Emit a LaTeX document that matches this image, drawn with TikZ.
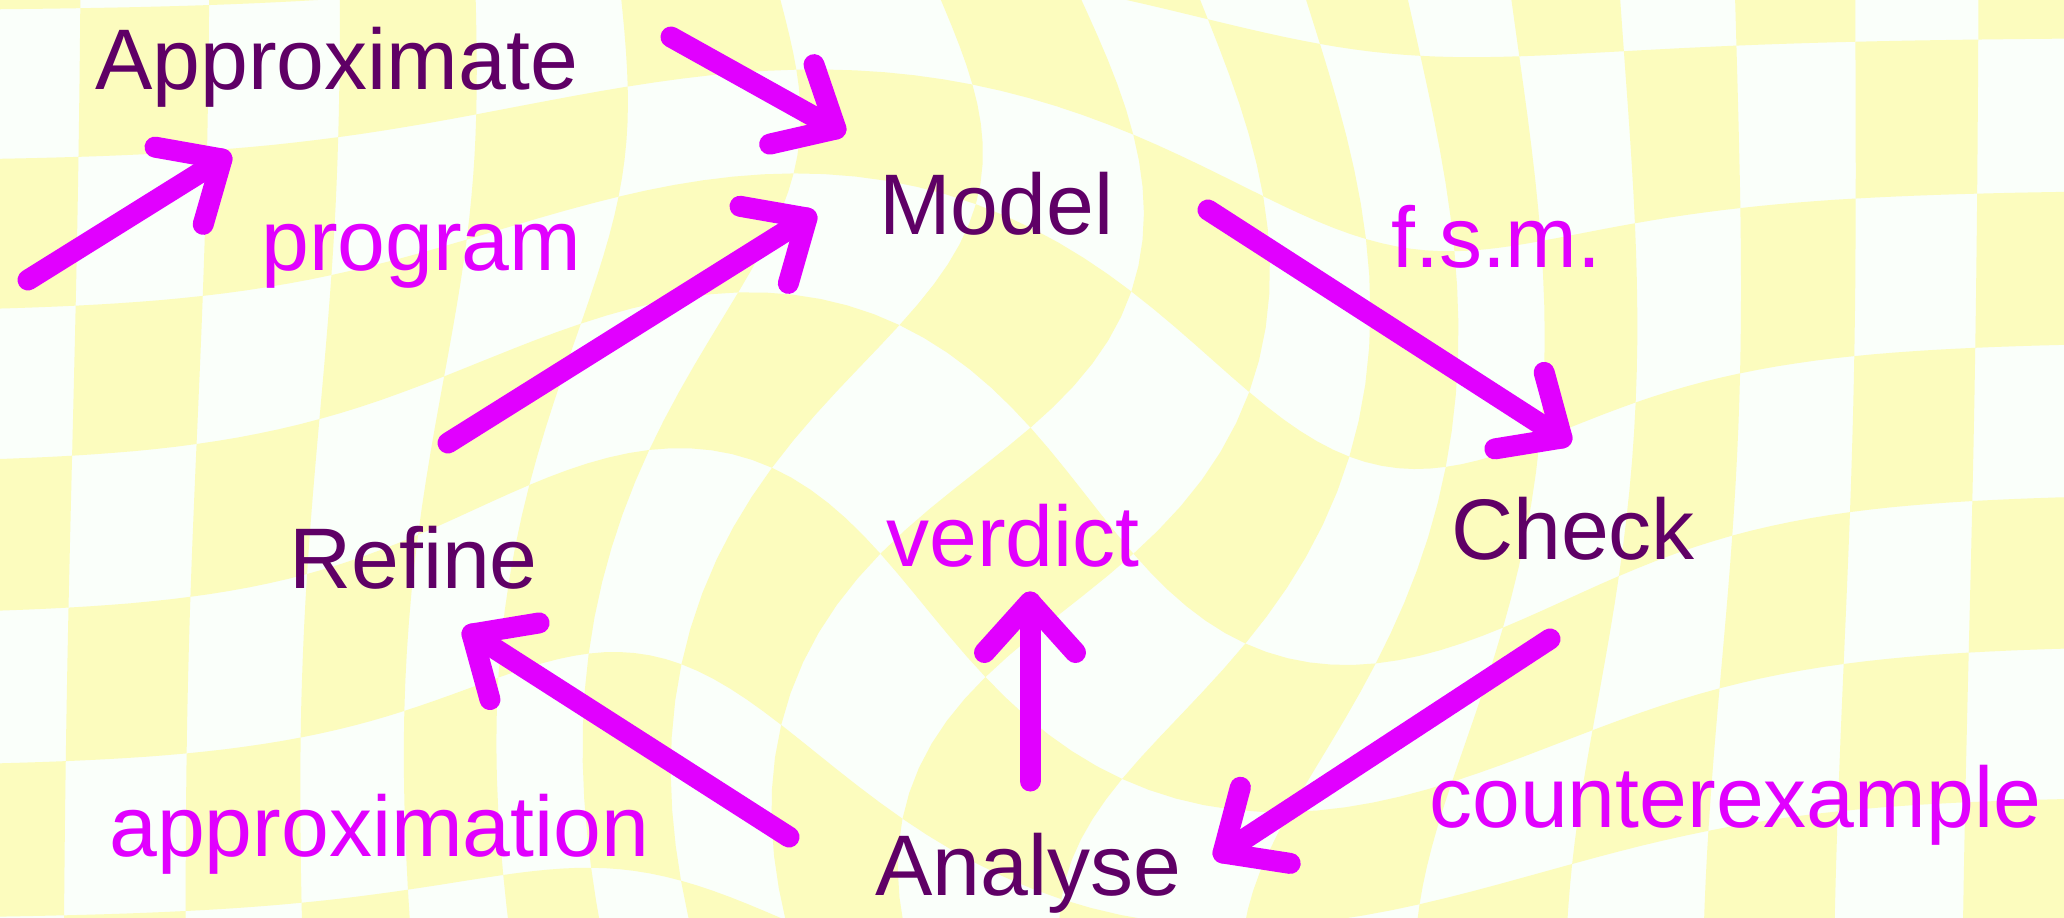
\documentclass[tikz,border=0pt]{standalone}
\usepackage{fontspec}
\setmainfont{Liberation Sans}
\usetikzlibrary{calc}
\definecolor{bgyel}{RGB}{252,252,190}
\definecolor{bgwht}{RGB}{250,255,250}
\definecolor{mag}{RGB}{225,0,255}
\definecolor{dpur}{RGB}{95,0,102}

\newcount\kk
\def\cx{10.2}\def\cy{5.4}
\newcommand\wpt[2]{%
 \pgfmathsetmacro\ux{0.72+1.265*(#1)-\cx}%
 \pgfmathsetmacro\uy{0.24+1.515*(#2)-\cy}%
 \pgfmathsetmacro\rr{sqrt(\ux*\ux+\uy*\uy)}%
 \pgfmathsetmacro\gg{exp(max(-9,-(\rr/4.2)^2))}%
 \pgfmathsetmacro\ang{48*\gg+5/(1+(\rr/5)^2)}%
 \pgfmathsetmacro\sc{1+0.3*\gg}%
 \pgfmathsetmacro\wx{100*(\cx+\sc*(\ux*cos(\ang)-\uy*sin(\ang)))}%
 \pgfmathsetmacro\wy{-100*(\cy+\sc*(\ux*sin(\ang)+\uy*cos(\ang)))}%
}
\newcommand\edgeloop[4]{%
 \kk=1
 \loop
  \wpt{#1+\the\kk*(#3)}{#2+\the\kk*(#4)}%
  \pgfpathlineto{\pgfqpoint{\wx pt}{\wy pt}}%
  \advance\kk by 1
 \ifnum\kk<7 \repeat}
\newcommand\headat[2]{%
 \draw[arr] ($(#1)!68pt!42:(#2)$) -- (#1) -- ($(#1)!68pt!-42:(#2)$);}

\tikzset{
 nodetxt/.style={anchor=base west, inner sep=0pt, text=dpur, font=\fontsize{86}{100}\selectfont},
 lbl/.style={nodetxt, text=mag},
 arr/.style={draw=mag, line width=21pt, line cap=round, line join=round}
}

\begin{document}
\begin{tikzpicture}[x=1pt,y=-1pt]
\useasboundingbox (0,0) rectangle (2064,918);
\fill[bgwht] (0,0) rectangle (2064,918);
\begin{scope}
\clip (0,0) rectangle (2064,918);
\pgfsetfillcolor{bgyel}
\foreach \i in {-2,...,16}{
 \foreach \j in {-2,...,6}{
  \pgfmathtruncatemacro\parity{mod(\i+\j+20,2)}
  \ifnum\parity=0
   \wpt{\i}{\j}\pgfpathmoveto{\pgfqpoint{\wx pt}{\wy pt}}
   \edgeloop{\i}{\j}{1/6}{0}
   \edgeloop{\i+1}{\j}{0}{1/6}
   \edgeloop{\i+1}{\j+1}{-1/6}{0}
   \edgeloop{\i}{\j+1}{0}{-1/6}
   \pgfpathclose
   \pgfusepath{fill}
  \fi
 }}
\end{scope}

\node[nodetxt] (approx) at (95,89.5) {Approximate};
\node[lbl] (program) at (261,270) {program};
\node[nodetxt] (model) at (879,234) {Model};
\node[lbl] (fsm) at (1391,267) {f.s.m.};
\node[nodetxt] (check) at (1451,559) {Check};
\node[lbl] (verdict) at (886,566) {verdict};
\node[nodetxt] (refine) at (289,588) {Refine};
\node[lbl] (approxn) at (109,856) {approximation};
\node[nodetxt] (analyse) at (875,895) {Analyse};
\node[lbl] (cex) at (1429,827) {counterexample};

\coordinate (a1s) at (28,280);   \coordinate (a1e) at (222,159);
\coordinate (a2s) at (671,37);   \coordinate (a2e) at (836,129);
\coordinate (a3s) at (448,443);  \coordinate (a3e) at (807,218);
\coordinate (a4s) at (1208,210); \coordinate (a4e) at (1562,438);
\coordinate (a5s) at (1550,639); \coordinate (a5e) at (1223,853);
\coordinate (a6s) at (1030,781); \coordinate (a6e) at (1030,602);
\coordinate (a7s) at (789,837);  \coordinate (a7e) at (472,634);

\foreach \n in {1,...,7}{
 \draw[arr] (a\n s) -- (a\n e);
 \headat{a\n e}{a\n s}
}
\end{tikzpicture}
\end{document}
